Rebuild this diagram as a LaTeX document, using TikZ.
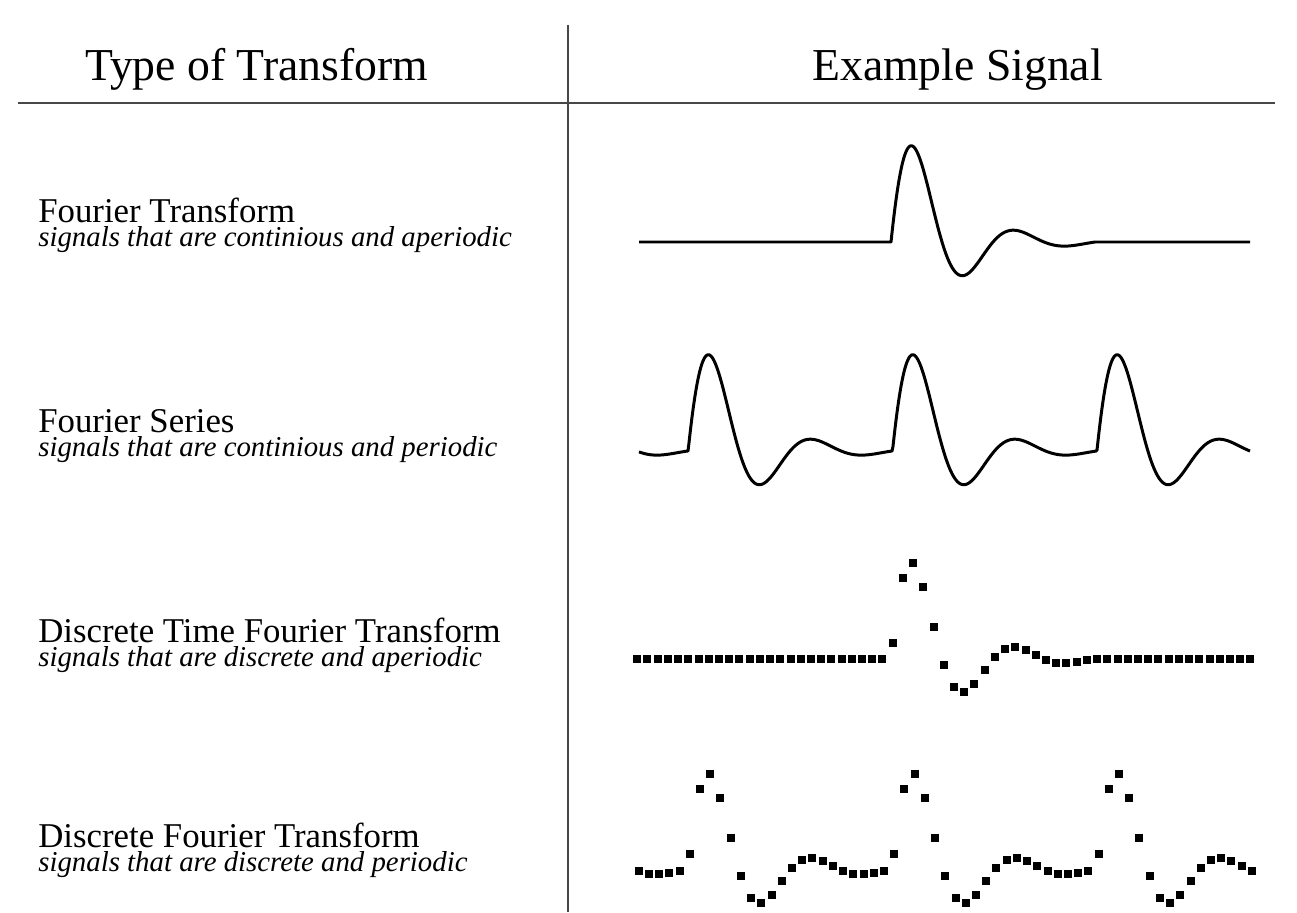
\documentclass[tikz,border=0pt]{standalone}
\usepackage{fontspec}
\setmainfont{Liberation Serif}
\begin{document}
\begin{tikzpicture}[x=0.02cm,y=-0.02cm,
		heading/.style={anchor=base west, inner sep=0, font=\fontsize{26}{30}\selectfont},
		kind/.style={anchor=base west, inner sep=0, font=\fontsize{19.8}{23}\selectfont},
		note/.style={anchor=base west, inner sep=0, font=\fontsize{16.4}{19}\selectfont\itshape},
		rule/.style={draw=black!72, line width=1.1pt},
		signal/.style={line width=1.7pt, line join=round},
		% damped sine, one cycle every 102 px
		declare function={pulse(\t)=154*exp(-\t/48.6)*sin(\t*3.5294);}
		]
	\useasboundingbox (0,0) rectangle (1297,912);

	% table frame
	\coordinate (rule-l) at (18,103);
	\coordinate (rule-r) at (1275,103);
	\coordinate (col-top) at (568,25);
	\coordinate (col-bot) at (568,912);
	\draw[rule] (rule-l) -- (rule-r);
	\draw[rule, line width=0.9pt] (col-top) -- (col-bot);

	\node[heading] (head-type) at (85,81) {Type of Transform};
	\node[heading] (head-signal) at (812,81) {Example Signal};

	% left column
	\node[kind] (ft) at (38,222) {Fourier Transform};
	\node[note] (ft-note) at (38,246) {signals that are continious and aperiodic};
	\node[kind] (fs) at (38,432) {Fourier Series};
	\node[note] (fs-note) at (38,456) {signals that are continious and periodic};
	\node[kind] (dtft) at (38,642) {Discrete Time Fourier Transform};
	\node[note] (dtft-note) at (38,666) {signals that are discrete and aperiodic};
	\node[kind] (dft) at (38,847) {Discrete Fourier Transform};
	\node[note] (dft-note) at (38,871) {signals that are discrete and periodic};

	% continuous, aperiodic
	\draw[signal] (639,242) -- (891,242)
		-- plot[domain=0:204, samples=205] ({891+\x},{242-pulse(\x)}) -- (1250,242);

	% continuous, periodic
	\draw[signal] plot[domain=639:1250, samples=612]
		(\x,{451-pulse(mod(\x-279.3,204.4))});

	% discrete, aperiodic
	\foreach \k in {-25,...,35} {
		\pgfmathsetmacro\t{1.7+10.22*\k}
		\pgfmathsetmacro\h{pulse(max(0,min(\t,204)))}
		\fill ({891+\t-4},{659-\h-4}) rectangle ++(8,8);
	}

	% discrete, periodic
	\foreach \k in {-25,...,35} {
		\pgfmathsetmacro\t{1.7+10.22*\k}
		\pgfmathsetmacro\h{pulse(mod(\t+408.8,204.4))}
		\fill ({892.5+\t-4},{870-\h-4}) rectangle ++(8,8);
	}
\end{tikzpicture}
\end{document}
